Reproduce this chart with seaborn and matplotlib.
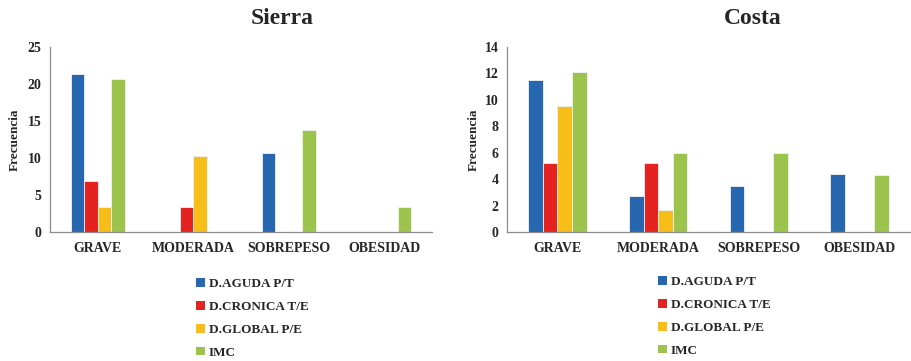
import matplotlib
matplotlib.use("Agg")
import matplotlib.pyplot as plt
import seaborn as sns
import pandas as pd

# Categories and series
categories = ["GRAVE", "MODERADA", "SOBREPESO", "OBESIDAD"]
series_names = ["D.AGUDA P/T", "D.CRONICA T/E", "D.GLOBAL P/E", "IMC"]
series_colors = ["#2767B0", "#E42320", "#F7BD19", "#9CC34B"]

# Sierra values (one list per series, in category order)
sierra_aguda = [21.4, 0.0, 10.7, 0.0]
sierra_cronica = [6.9, 3.4, 0.0, 0.0]
sierra_global = [3.4, 10.3, 0.0, 0.0]
sierra_imc = [20.7, 0.0, 13.8, 3.4]
sierra_yticks = [0, 5, 10, 15, 20, 25]

# Costa values
costa_aguda = [11.5, 2.7, 3.5, 4.4]
costa_cronica = [5.2, 5.2, 0.0, 0.0]
costa_global = [9.5, 1.7, 0.0, 0.0]
costa_imc = [12.1, 6.0, 6.0, 4.3]
costa_yticks = [0, 2, 4, 6, 8, 10, 12, 14]


def long_table(aguda, cronica, glob, imc):
    rows = []
    for name, vals in zip(series_names, [aguda, cronica, glob, imc]):
        for cat, v in zip(categories, vals):
            rows.append({"Categoria": cat, "Serie": name, "Frecuencia": v})
    return pd.DataFrame(rows)


sierra_df = long_table(sierra_aguda, sierra_cronica, sierra_global, sierra_imc)
costa_df = long_table(costa_aguda, costa_cronica, costa_global, costa_imc)

sns.set_style("white")
plt.rcParams["font.family"] = ["Liberation Serif", "DejaVu Serif"]
plt.rcParams["font.weight"] = "bold"

W, H = 912, 361
fig = plt.figure(figsize=(W / 100, H / 100), dpi=100)
palette = dict(zip(series_names, series_colors))


def px_axes(left, top, right, bottom):
    return fig.add_axes([left / W, 1 - bottom / H, (right - left) / W, (bottom - top) / H])


def draw_panel(ax, df, yticks, width, ylabel_x, title, title_x, legend_xy):
    sns.barplot(data=df, x="Categoria", y="Frecuencia", hue="Serie",
                order=categories, hue_order=series_names, palette=palette,
                width=width, gap=0, edgecolor="#f2f2f2", linewidth=0.6,
                saturation=1, ax=ax, zorder=2)
    ax.set_ylim(yticks[0], yticks[-1])
    ax.set_yticks(yticks)
    ax.set_yticklabels([str(t) for t in yticks], fontsize=10, fontweight="bold")
    ax.set_xlim(-0.5, len(categories) - 0.5)
    ax.set_xlabel("")
    ax.set_ylabel("Frecuencia", fontsize=9.5, fontweight="bold")
    ax.yaxis.set_label_coords(ylabel_x, 0.5)
    for lbl in ax.get_xticklabels():
        lbl.set_fontsize(10)
        lbl.set_fontweight("bold")
    ax.tick_params(axis="x", length=0, pad=7)
    ax.tick_params(axis="y", length=3, width=0.8, color="#8c8c8c", direction="out", pad=3)
    for side in ["top", "right"]:
        ax.spines[side].set_visible(False)
    for side in ["left", "bottom"]:
        ax.spines[side].set_color("#8c8c8c")
        ax.spines[side].set_linewidth(0.9)
        ax.spines[side].set_zorder(5)
    ax.grid(False)
    fig.text(title_x / W, 1 - 18 / H, title, ha="center", va="center",
             fontsize=17, fontweight="bold")
    sns.move_legend(ax, "upper left",
                    bbox_to_anchor=(legend_xy[0] / W, 1 - legend_xy[1] / H),
                    bbox_transform=fig.transFigure, frameon=False, title=None,
                    prop={"size": 9.5, "weight": "bold"},
                    handlelength=0.65, handleheight=0.65, handletextpad=0.3,
                    labelspacing=0.82, borderpad=0, borderaxespad=0)
    for h in ax.get_legend().legend_handles:
        h.set_edgecolor("none")


ax1 = px_axes(50, 47, 432, 232)
draw_panel(ax1, sierra_df, sierra_yticks, 0.57, -0.076, "Sierra", 282, (196, 278))

ax2 = px_axes(507, 47, 910, 232)
draw_panel(ax2, costa_df, costa_yticks, 0.58, -0.067, "Costa", 753, (658, 276))

fig.savefig("out.png", dpi=100)
